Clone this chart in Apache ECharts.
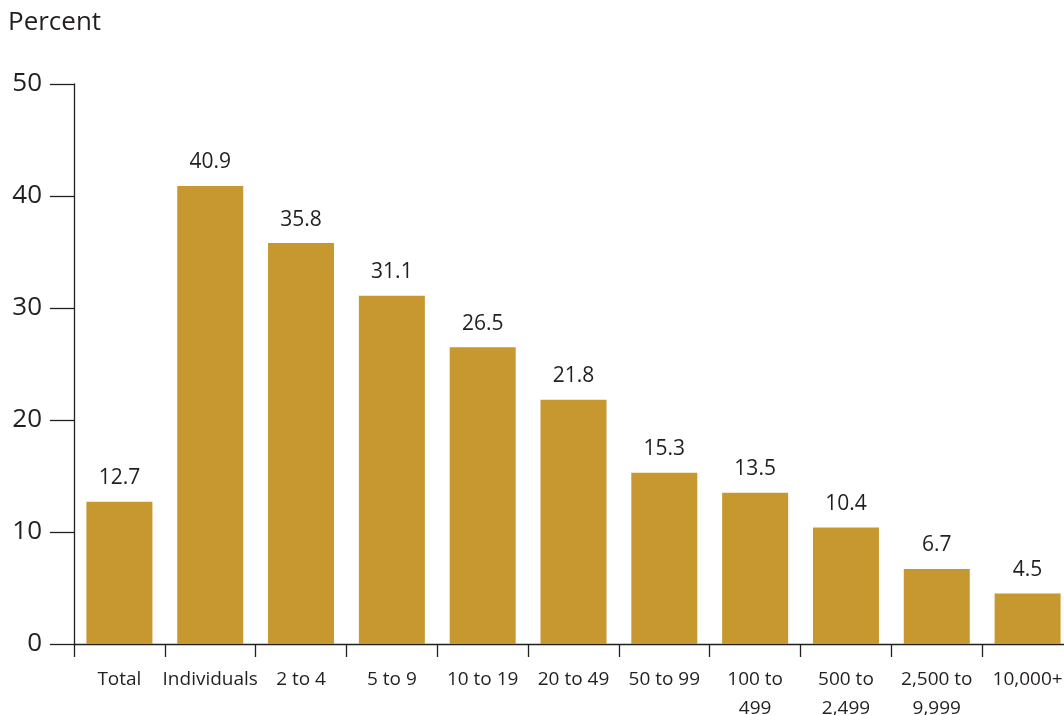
<!DOCTYPE html>
<html>
<head>
<meta charset="utf-8">
<script src="https://cdn.jsdelivr.net/npm/echarts@6/dist/echarts.min.js"></script>
<style>
  html, body { margin: 0; padding: 0; background: #ffffff; }
  #chart { width: 1064px; height: 715px; }
</style>
</head>
<body>
<div id="chart"></div>
<script>
// Share of workers by employer size group (percent)
const categories = ['Total', 'Individuals', '2 to 4', '5 to 9', '10 to 19', '20 to 49',
  '50 to 99', '100 to\n499', '500 to\n2,499', '2,500 to\n9,999', '10,000+'];
const values = [12.7, 40.9, 35.8, 31.1, 26.5, 21.8, 15.3, 13.5, 10.4, 6.7, 4.5];
const yTicks = { min: 0, max: 50, interval: 10 };

const FONT = '"Open Sans", "Liberation Sans", sans-serif';
const INK = '#231f20';
const BAR = '#c6982f';

const chart = echarts.init(document.getElementById('chart'), null, { renderer: 'canvas' });
chart.setOption({
  animation: false,
  backgroundColor: '#ffffff',
  title: {
    text: 'Percent',
    left: 8,
    top: 10,
    padding: 0,
    textStyle: { fontFamily: FONT, fontSize: 26, fontWeight: 'normal', color: INK }
  },
  grid: {
    left: 74, right: -9, top: 84, bottom: 71,
    containLabel: false,
    outerBoundsMode: 'none'
  },
  xAxis: {
    type: 'category',
    data: categories,
    boundaryGap: true,
    axisLine: { show: true, lineStyle: { color: INK, width: 1.3 } },
    axisTick: { show: true, length: 13, lineStyle: { color: INK, width: 1.3 } },
    axisLabel: {
      interval: 0,
      margin: 21,
      fontFamily: FONT,
      fontSize: 19,
      lineHeight: 29,
      color: INK
    },
    splitLine: { show: false }
  },
  yAxis: {
    type: 'value',
    min: yTicks.min,
    max: yTicks.max,
    interval: yTicks.interval,
    axisLine: { show: true, lineStyle: { color: INK, width: 1.3 } },
    axisTick: { show: true, length: 24, lineStyle: { color: INK, width: 1.3 } },
    axisLabel: { margin: 32, fontFamily: FONT, fontSize: 26, color: INK },
    splitLine: { show: false }
  },
  series: [{
    type: 'bar',
    data: values,
    barWidth: 66,
    itemStyle: { color: BAR },
    label: {
      show: true,
      position: 'top',
      distance: 13,
      fontFamily: FONT,
      fontSize: 21,
      color: INK,
      formatter: p => p.value.toFixed(1)
    }
  }]
});
</script>
</body>
</html>
